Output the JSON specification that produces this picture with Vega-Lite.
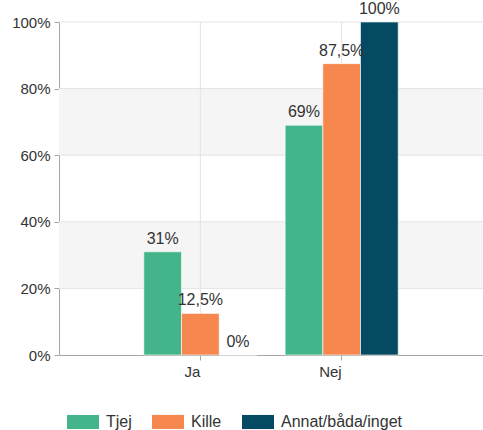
{
  "$schema": "https://vega.github.io/schema/vega-lite/v6.json",
  "width": 424,
  "height": 333,
  "autosize": {"type": "none"},
  "padding": {"left": 59, "top": 22, "right": 0, "bottom": 75},
  "config": {
    "view": {"stroke": null},
    "font": "Liberation Sans",
    "axis": {"labelFont": "Liberation Sans", "labelFontSize": 15, "labelColor": "#333333"},
    "legend": {"labelFont": "Liberation Sans"}
  },
  "datasets": {
    "bars": [
      {"svar": "Ja", "kon": "Tjej", "value": 31, "label": "31%"},
      {"svar": "Ja", "kon": "Kille", "value": 12.5, "label": "12,5%"},
      {"svar": "Ja", "kon": "Annat/båda/inget", "value": 0, "label": "0%"},
      {"svar": "Nej", "kon": "Tjej", "value": 69, "label": "69%"},
      {"svar": "Nej", "kon": "Kille", "value": 87.5, "label": "87,5%"},
      {"svar": "Nej", "kon": "Annat/båda/inget", "value": 100, "label": "100%"}
    ],
    "bands": [{"y1": 20, "y2": 40}, {"y1": 60, "y2": 80}],
    "hgrid": [{"y": 20}, {"y": 40}, {"y": 60}, {"y": 80}, {"y": 100}],
    "vgrid": [{"svar": "Ja"}, {"svar": "Nej"}]
  },
  "layer": [
    {
      "data": {"name": "bands"},
      "mark": {"type": "rect", "color": "#f5f5f5"},
      "encoding": {
        "y": {"field": "y1", "type": "quantitative", "scale": {"domain": [0, 100], "nice": false}},
        "y2": {"field": "y2"}
      }
    },
    {
      "data": {"name": "hgrid"},
      "mark": {"type": "rule", "color": "#e3e3e3", "strokeWidth": 1},
      "encoding": {"y": {"field": "y", "type": "quantitative"}}
    },
    {
      "data": {"name": "vgrid"},
      "mark": {"type": "rule", "color": "#e3e3e3", "strokeWidth": 1},
      "encoding": {"x": {"field": "svar", "type": "nominal"}}
    },
    {
      "data": {"name": "bars"},
      "mark": {"type": "bar", "stroke": "#ffffff", "strokeOpacity": 0.6, "strokeWidth": 1},
      "encoding": {
        "x": {
          "field": "svar", "type": "nominal",
          "scale": {"domain": ["Ja", "Nej"], "paddingInner": 0.2, "paddingOuter": 0.6},
          "axis": {
            "title": null, "labelAngle": 0, "bandPosition": 0.5, "grid": false,
            "domainColor": "#a6a6a6", "tickColor": "#a6a6a6", "tickSize": 5, "labelPadding": 11
          }
        },
        "xOffset": {
          "field": "kon", "type": "nominal",
          "scale": {"domain": ["Tjej", "Kille", "Annat/båda/inget"], "paddingInner": 0, "paddingOuter": 0}
        },
        "y": {
          "field": "value", "type": "quantitative",
          "scale": {"domain": [0, 100], "nice": false},
          "axis": {
            "title": null, "grid": false, "values": [0, 20, 40, 60, 80, 100],
            "labelExpr": "datum.value + '%'",
            "domainColor": "#a6a6a6", "tickColor": "#a6a6a6", "tickSize": 5, "labelPadding": 4
          }
        },
        "color": {
          "field": "kon", "type": "nominal",
          "scale": {"domain": ["Tjej", "Kille", "Annat/båda/inget"], "range": ["#44b58a", "#f5874f", "#034a62"]},
          "legend": {
            "title": null, "orient": "none", "direction": "horizontal",
            "legendX": 8, "legendY": 384,
            "symbolType": "M-1,-0.44h2v0.88h-2z", "symbolSize": 1024,
            "symbolStrokeWidth": 0, "symbolOpacity": 1,
            "labelFontSize": 16, "labelColor": "#333333", "labelOffset": 7,
            "columnPadding": 20
          }
        }
      }
    },
    {
      "data": {"name": "bars"},
      "mark": {"type": "text", "baseline": "alphabetic", "dy": -8, "fontSize": 16, "color": "#333333"},
      "encoding": {
        "x": {"field": "svar", "type": "nominal"},
        "xOffset": {"field": "kon", "type": "nominal"},
        "y": {"field": "value", "type": "quantitative"},
        "text": {"field": "label"}
      }
    }
  ]
}
